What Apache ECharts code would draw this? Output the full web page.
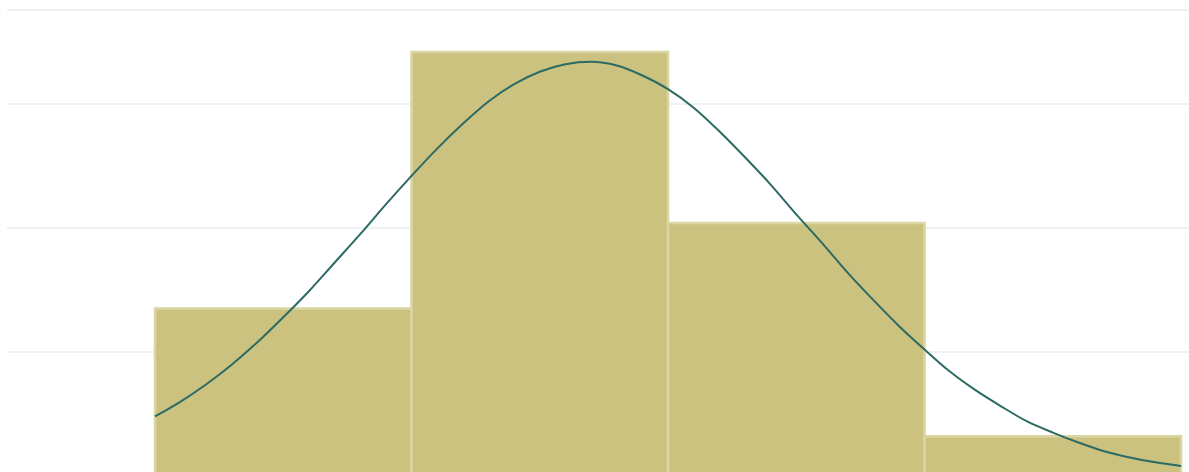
<!DOCTYPE html>
<html>
<head>
<meta charset="utf-8">
<script src="https://cdn.jsdelivr.net/npm/echarts@6/dist/echarts.min.js"></script>
<style>
html,body{margin:0;padding:0;background:#fff;overflow:hidden;}
#chart{width:1189px;height:472px;}
</style>
</head>
<body>
<div id="chart"></div>
<script>
// Histogram bins (bin start, bin end) and heights
var binStarts = [0, 1, 2, 3];
var binEnds = [1, 2, 3, 4];
var binValues = [1.35, 3.42, 2.04, 0.32];

// Fitted curve points
var curveX = [0, 0.1, 0.2, 0.3, 0.4, 0.5, 0.6, 0.7, 0.8, 0.9, 1, 1.1, 1.2, 1.3, 1.4, 1.5, 1.6, 1.7, 1.8, 1.9, 2,
              2.1, 2.2, 2.3, 2.4, 2.5, 2.6, 2.7, 2.8, 2.9, 3, 3.1, 3.2, 3.3, 3.4, 3.5, 3.6, 3.7, 3.8, 3.9, 4];
var curveY = [0.48, 0.60, 0.74, 0.90, 1.08, 1.28, 1.49, 1.72, 1.95, 2.19, 2.42, 2.64, 2.84, 3.02, 3.16, 3.26, 3.32, 3.34, 3.31, 3.23, 3.12,
              2.97, 2.78, 2.57, 2.35, 2.11, 1.88, 1.64, 1.42, 1.21, 1.02, 0.84, 0.69, 0.56, 0.44, 0.35, 0.27, 0.20, 0.15, 0.11, 0.08];

var barData = binStarts.map(function (s, i) { return [s, binEnds[i], binValues[i]]; });
var lineData = curveX.map(function (x, i) { return [x, curveY[i]]; });

var chart = echarts.init(document.getElementById('chart'));
chart.setOption({
  animation: false,
  grid: { left: 7, top: 10, width: 1182, height: 466, containLabel: false, outerBoundsMode: 'none' },
  xAxis: {
    type: 'value', min: -0.577, max: 4.031,
    axisLine: { show: false }, axisTick: { show: false }, axisLabel: { show: false },
    splitLine: { show: false }
  },
  yAxis: {
    type: 'value', min: 0, max: 3.758, interval: 1,
    axisLine: { show: false }, axisTick: { show: false }, axisLabel: { show: false },
    splitLine: { show: true, lineStyle: { color: '#eef2f3', width: 2 } }
  },
  series: [
    {
      type: 'custom',
      data: barData,
      renderItem: function (params, api) {
        var p0 = api.coord([api.value(0), api.value(2)]);
        var p1 = api.coord([api.value(1), 0]);
        return {
          type: 'rect',
          shape: { x: p0[0], y: p0[1], width: p1[0] - p0[0], height: p1[1] - p0[1] },
          style: { fill: '#cbc27f', stroke: '#dad5a2', lineWidth: 2.5 }
        };
      },
      encode: { x: [0, 1], y: 2 },
      z: 2
    },
    {
      type: 'line',
      data: lineData,
      smooth: 0.3,
      showSymbol: false,
      symbol: 'none',
      lineStyle: { color: '#2b6b64', width: 2 },
      z: 3
    }
  ]
});
</script>
</body>
</html>
